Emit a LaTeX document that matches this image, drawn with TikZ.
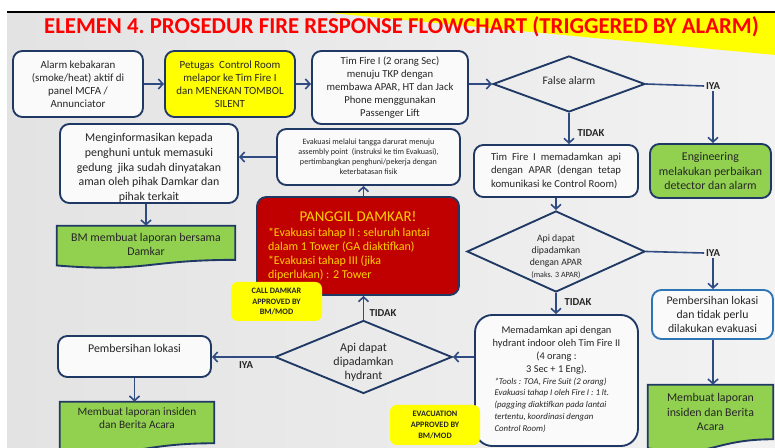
\documentclass[tikz,border=0pt]{standalone}
\usepackage{fontspec}
\setmainfont{Carlito}
\usetikzlibrary{arrows.meta,shapes.geometric}
\definecolor{navy}{HTML}{1F3864}
\definecolor{linec}{HTML}{2F4B82}
\definecolor{ink}{HTML}{262626}
\definecolor{leaf}{HTML}{92D050}
\definecolor{lemon}{HTML}{FFFF00}
\definecolor{brick}{HTML}{C00000}
\definecolor{gold}{HTML}{FFD200}
\definecolor{sky}{HTML}{2E75B6}
\definecolor{titlered}{HTML}{FF0000}
\definecolor{paper}{HTML}{FAFAFA}
\newcommand{\fs}[2]{\fontsize{#1}{#2}\selectfont}
\pgfdeclarelayer{back}
\pgfdeclarelayer{mid}
\pgfsetlayers{back,mid,main}
\tikzset{
  wh/.style 2 args={minimum width=#1*0.75pt, minimum height=#2*0.75pt},
  box/.style={draw=navy, line width=1.4pt, fill=paper, rounded corners=7pt,
    align=center, text=ink, inner sep=0pt},
  greenbox/.style={box, fill=leaf},
  txt/.style={align=center, text=ink, inner sep=0pt},
  docfill/.style={draw=navy, line width=1.4pt, fill=leaf},
  dia/.style={diamond, draw=navy, line width=1.4pt, inner sep=0pt},
  tag/.style={fill=lemon, rounded corners=5pt, align=center, text=ink, inner sep=0pt,
    font=\bfseries\fs{6.2}{8.2}},
  lbl/.style={font=\bfseries\fs{8}{9}, text=ink, inner sep=1.2pt},
  ln/.style={draw=linec, line width=1.2pt},
  arr/.style={ln, -{Straight Barb[length=3.5pt,width=7.5pt]}},
}
% wavy "document" outline below a node: right drop, left drop, lower control (px)
\newcommand{\docwave}[4]{%
  \path[docfill] (#1.north west) -- (#1.north east)
    -- ([yshift=-#2*0.75pt]#1.south east)
    .. controls ([yshift=-#2*0.75pt]#1.south) and ([yshift=-#4*0.75pt]#1.south)
    .. ([yshift=-#3*0.75pt]#1.south west) -- cycle;}
\begin{document}
\begin{tikzpicture}[x=0.75pt,y=-0.75pt]
\useasboundingbox (0,0) rectangle (775,448);

% slide background
\begin{pgfonlayer}{back}
  \fill[white] (0,0) rectangle (775,448);
  \shade[left color=black!11, right color=black!5] (7,13) rectangle (775,448);
  \fill[lemon] (330,13) -- (775,13) -- (775,55) -- cycle;
  \draw[black, line width=1.6pt] (7,12) -- (775,12);
\end{pgfonlayer}

% title
\node[font=\bfseries\fs{17.05}{20}, text=titlered, inner sep=0pt] (title) at (401.5,26.5)
  {ELEMEN 4.\ PROSEDUR FIRE RESPONSE FLOWCHART (TRIGGERED BY ALARM)};

% top row
\node[box, wh={130}{66}, font=\fs{8.2}{9.8}] (alarm) at (78,84)
  {Alarm kebakaran\\(smoke/heat) aktif di\\panel MCFA /\\Annunciator};
\node[box, fill=lemon, wh={130}{66}, font=\fs{8.2}{9.8}] (report) at (230,84)
  {Petugas\ \ Control Room\\melapor ke Tim Fire I\\dan MENEKAN TOMBOL\\SILENT};
\node[box, wh={156}{73}, font=\fs{8}{9.8}] (teamgo) at (390,87.5)
  {Tim Fire I (2 orang Sec)\\menuju TKP dengan\\membawa APAR, HT dan Jack\\Phone menggunakan\\Passenger Lift};
\node[dia, wh={152}{56}] (falsealarm) at (569,84) {};
\node[txt, font=\fs{8.6}{10}] (falsealarmtext) at (569,80.5) {False alarm};

% right column
\node[greenbox, wh={121}{54}, font=\fs{8.9}{10.9}] (eng) at (710.5,171)
  {Engineering\\melakukan perbaikan\\detector dan alarm};
\node[box, draw=sky, wh={121}{49}, font=\fs{8.8}{10.5}] (cleanup2) at (712.5,314.5)
  {Pembersihan lokasi\\dan tidak perlu\\dilakukan evakuasi};
\node[txt, wh={125}{54}, font=\fs{8.9}{10.9}] (report2) at (710.5,412)
  {Membuat laporan\\insiden dan Berita\\Acara};

% centre column
\node[box, wh={164}{52}, font=\fs{8}{9.8}, text width=130*0.75pt, align=justify] (apar) at (556,171)
  {Tim Fire I memadamkan api\linebreak dengan APAR (dengan tetap\linebreak komunikasi ke Control Room)};
\node[dia, wh={178}{81}] (aparok) at (556,251.5) {};
\node[txt, font=\fs{7.3}{9}] (aparoktext) at (556,257)
  {Api dapat\\dipadamkan\\dengan APAR\\{\fs{6}{7}(maks. 3 APAR)}};
\node[box, rounded corners=13pt, wh={163}{131}, font=\fs{7.8}{9.8}] (hydrant) at (556.5,380.5)
  {Memadamkan api dengan\\hydrant indoor oleh Tim Fire II\\(4 orang :\\3 Sec + 1 Eng).\\[-1pt]
   \hspace*{-7pt}{\itshape\fs{6.6}{8.9}\begin{tabular}[t]{@{}l@{}}
   *Tools : TOA, Fire Suit (2 orang)\\
   *Evakuasi tahap I oleh Fire I : 1 lt.\\
   (pagging diaktifkan pada lantai\\
   tertentu, koordinasi dengan\\
   Control Room)\end{tabular}}};
\node[tag, wh={90}{40}] (evacok) at (435,425) {EVACUATION\\APPROVED BY\\BM/MOD};

\node[dia, wh={177}{73}] (hydrantok) at (363.5,357) {};
\node[txt, font=\fs{9}{10.5}] (hydrantoktext) at (363.5,362.5)
  {Api dapat\\dipadamkan\\hydrant};

% left part
\node[box, fill=brick, wh={202}{98}, text width=180*0.75pt, align=flush left, text=gold,
  font=\fs{9}{10.5}] (damkar) at (358,246)
  {\hfill{\fs{11.2}{13}PANGGIL DAMKAR!}\hfill\null\\[1pt]
   *Evakuasi tahap II : seluruh lantai\\
   dalam 1 Tower (GA diaktifkan)\\
   **Evakuasi tahap III (jika\\
   diperlukan) : 2 Tower};
\node[tag, wh={91}{39}] (callok) at (276.5,301.5) {CALL DAMKAR\\APPROVED BY\\BM/MOD};
\node[box, wh={183}{56}, font=\fs{6.1}{7.6}] (evacuate) at (368.5,157)
  {Evakuasi melalui tangga darurat menuju\\assembly point\ \ (instruksi ke tim Evakuasi),\\pertimbangkan penghuni/pekerja dengan\\keterbatasan fisik};
\node[box, wh={178}{79}, font=\fs{8.9}{10.9}] (inform) at (149,163.5)
  {\rule{0pt}{12.7pt}Menginformasikan kepada\\penghuni untuk memasuki\\gedung\ \ jika sudah dinyatakan\\aman oleh pihak Damkar dan\\pihak terkait};
\node[txt, wh={178}{36}, font=\fs{8.9}{10.5}] (report3) at (146,244)
  {BM membuat laporan bersama\\Damkar};
\node[box, wh={153}{41}, font=\fs{8.9}{10.5}, text height=6.7pt, text depth=12.9pt] (cleanup1) at (134.5,356.5)
  {Pembersihan lokasi};
\node[txt, wh={154}{32}, font=\fs{8.5}{10.3}] (report1) at (137,418)
  {Membuat laporan insiden\\dan Berita Acara};

% document outlines behind their texts
\begin{pgfonlayer}{mid}
  \docwave{report3}{-2.4}{3.2}{10.5}
  \docwave{report1}{9}{15.6}{24.5}
  \docwave{report2}{0}{9}{20.7}
\end{pgfonlayer}

% branch labels
\node[lbl] (yes1) at (713,86) {IYA};
\node[lbl] (no1) at (591,133) {TIDAK};
\node[lbl] (yes2) at (713,253) {IYA};
\node[lbl] (no2) at (578,302) {TIDAK};
\node[lbl] (no3) at (383,313) {TIDAK};
\node[lbl] (yes3) at (246,365) {IYA};

% connectors
\draw[arr] (alarm.east) -- (report.west);
\draw[arr] (report.east) -- (report.east -| teamgo.west);
\draw[arr] (teamgo.east |- falsealarm.west) -- (falsealarm.west);
\draw[ln] (falsealarm.east) -- (yes1.west);
\draw[arr] (yes1.south) -- (yes1.south |- eng.north);
\draw[arr] (falsealarm.south) -- (falsealarm.south |- apar.north);
\draw[arr] (apar.south -| aparok.north) -- (aparok.north);
\draw[ln] (aparok.east) -- (yes2.west);
\draw[arr] (yes2.south) -- (yes2.south |- cleanup2.north);
\draw[arr] (yes2.south |- cleanup2.south) -- (yes2.south |- report2.north);
\draw[arr] (aparok.south) -- (aparok.south |- hydrant.north);
\draw[arr] (hydrant.west |- hydrantok.east) -- (hydrantok.east);
\draw[arr] (hydrantok.north) -- (hydrantok.north |- damkar.south);
\draw[arr] (hydrantok.west) -- (hydrantok.west -| cleanup1.east);
\draw[arr] (cleanup1.south) -- (cleanup1.south |- report1.north);
\draw[arr] (damkar.north -| hydrantok.north) -- (hydrantok.north |- evacuate.south);
\draw[arr] (evacuate.west) -- (evacuate.west -| inform.east);
\draw[arr] (inform.south -| report3.north) -- (report3.north);
\end{tikzpicture}
\end{document}
